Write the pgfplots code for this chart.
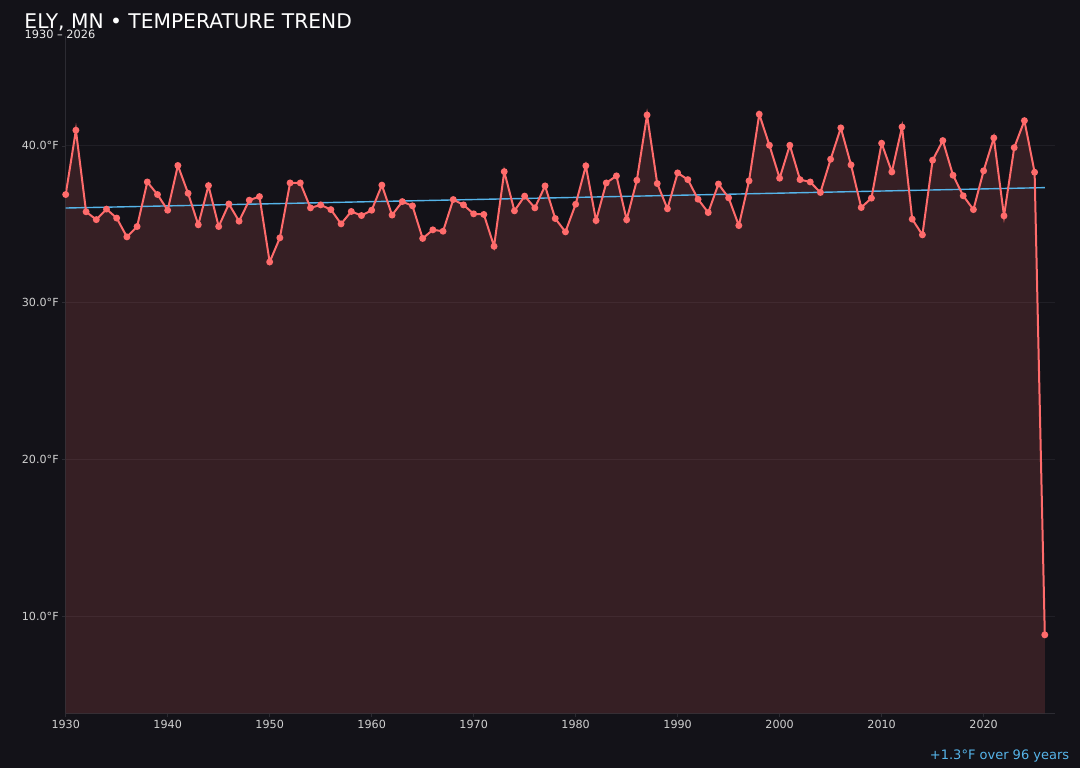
\documentclass[border=0pt]{standalone}
\usepackage{pgfplots}
\pgfplotsset{compat=1.18}
\usepackage{pgfplotstable}
\usepackage{fontspec}
\setmainfont{DejaVu Sans}
\definecolor{bg}{HTML}{131218}
\definecolor{spine}{HTML}{2C2B32}
\definecolor{gridc}{HTML}{201F26}
\definecolor{linec}{HTML}{FF6B6B}
\definecolor{trendc}{HTML}{56B4E9}
\definecolor{tickc}{HTML}{D0D0D0}
\pgfplotstableread{
year temp
1930 36.90
1931 41.00
1932 35.80
1933 35.30
1934 35.97
1935 35.40
1936 34.20
1937 34.86
1938 37.70
1939 36.90
1940 35.90
1941 38.75
1942 36.98
1943 34.97
1944 37.47
1945 34.86
1946 36.30
1947 35.20
1948 36.54
1949 36.77
1950 32.60
1951 34.14
1952 37.64
1953 37.64
1954 36.05
1955 36.24
1956 35.94
1957 35.03
1958 35.82
1959 35.56
1960 35.90
1961 37.50
1962 35.59
1963 36.45
1964 36.18
1965 34.10
1966 34.65
1967 34.56
1968 36.58
1969 36.24
1970 35.67
1971 35.63
1972 33.60
1973 38.36
1974 35.86
1975 36.80
1976 36.05
1977 37.45
1978 35.37
1979 34.52
1980 36.28
1981 38.73
1982 35.24
1983 37.64
1984 38.09
1985 35.29
1986 37.81
1987 41.97
1988 37.60
1989 35.99
1990 38.28
1991 37.85
1992 36.60
1993 35.75
1994 37.57
1995 36.69
1996 34.92
1997 37.77
1998 42.02
1999 40.04
2000 37.94
2001 40.04
2002 37.85
2003 37.70
2004 37.03
2005 39.15
2006 41.15
2007 38.79
2008 36.07
2009 36.67
2010 40.17
2011 38.34
2012 41.21
2013 35.33
2014 34.33
2015 39.09
2016 40.34
2017 38.13
2018 36.82
2019 35.94
2020 38.41
2021 40.51
2022 35.54
2023 39.89
2024 41.61
2025 38.32
2026 8.83
}\temps
\begin{document}
\begin{tikzpicture}[x=1bp,y=1bp]
\fill[bg] (0,0) rectangle (1080,768);
\begin{axis}[
  at={(65.7bp,54.7bp)}, anchor=south west,
  scale only axis, width=989.3bp, height=677.5bp,
  xmin=1930, xmax=2027, ymin=3.83, ymax=47.02,
  axis lines=left,
  axis line style={-, draw=spine, line width=1bp},
  x axis line style={-}, y axis line style={-},
  tick align=outside, major tick length=3.5bp,
  tick style={draw=spine, line width=0.8bp},
  xtick={1930,1940,...,2020},
  ytick={10,20,30,40},
  yticklabels={10.0°F,20.0°F,30.0°F,40.0°F},
  xticklabel style={/pgf/number format/1000 sep={}},
  /pgf/number format/assume math mode=true,
  ticklabel style={font=\fontsize{11.2}{13}\selectfont, text=tickc},
  ymajorgrids, grid style={draw=gridc, line width=0.9bp},
  minor tick num=0,
]
\addplot[draw=none, fill=linec, fill opacity=0.15] table[x=year,y=temp] {\temps} \closedcycle;
\addplot[trendc, line width=1.4bp] coordinates {(1930,36.04) (2026,37.34)};
\addplot[linec, line width=2bp, mark=*, mark size=2.4bp, mark options={fill=linec, draw=linec}] table[x=year,y=temp] {\temps};
\end{axis}
\node[anchor=base west, inner sep=0, text=white, font=\fontsize{20.3}{23}\selectfont] at (24.3,739.8) {ELY, MN • TEMPERATURE TREND};
\node[anchor=base west, inner sep=0, text=white!92!black, font=\fontsize{11.4}{13}\selectfont] at (24.4,729.4) {1930 – 2026};
\node[anchor=base east, inner sep=0, text=trendc, font=\fontsize{13.05}{15}\selectfont] at (1069.4,8.3) {+1.3°F over 96 years};
\end{tikzpicture}
\end{document}
